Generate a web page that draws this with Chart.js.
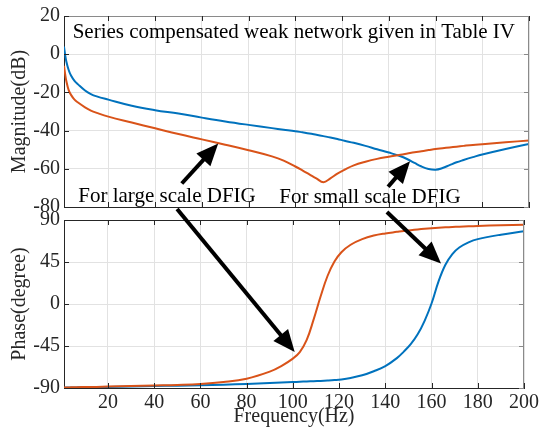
<!DOCTYPE html>
<html>
<head>
<meta charset="utf-8">
<script src="https://cdn.jsdelivr.net/npm/chart.js@4.4.1/dist/chart.umd.min.js"></script>
<style>
  html, body { margin: 0; padding: 0; background: #fff; }
  #wrap { position: relative; width: 542px; height: 431px; overflow: hidden; }
  canvas { position: absolute; left: 0; }
  #mag { top: 0; }
  #phase { top: 200px; }
  #notes { top: 0; pointer-events: none; }
</style>
</head>
<body>
<div id="wrap">
  <canvas id="mag" width="542" height="225"></canvas>
  <canvas id="phase" width="542" height="231"></canvas>
  <canvas id="notes" width="542" height="431"></canvas>
</div>
<script>
// ==================== Data ====================

const freqHz = [1, 1.5, 2, 3, 4, 5.5, 7, 10, 12.5, 15, 20, 30, 40, 50, 60, 70, 80, 90, 95, 100,
  103, 106, 109, 112, 115, 118, 121, 125, 130, 135, 140, 145, 148, 151, 154, 157, 160, 163, 166, 169,
  172, 176, 180, 190, 200];

// large scale DFIG (orange)
const magLarge = [-6.1, -10.5, -14, -18.8, -21.3, -23.8, -25.3, -27.8, -29.5, -30.7, -32.7, -35.8, -38.8, -41.8, -44.6, -47.4, -50.3, -53.5, -55.7, -58.8,
  -60.8, -62.9, -65, -67, -65, -62.5, -60.5, -58.2, -56.3, -54.8, -53.7, -52.7, -52, -51.3, -50.8, -50.2, -49.6, -49.2, -48.8, -48.4,
  -48, -47.5, -47.1, -46.1, -45.2];
const phaseLarge = [-89.6, -89.5, -89.5, -89.4, -89.3, -89.2, -89.1, -89, -88.9, -88.8, -88.5, -87.9, -87.3, -86.7, -85.7, -83.6, -80, -72.5, -66.5, -58.5,
  -51.5, -38.5, -16.5, 8, 30, 45.5, 55.5, 63.5, 69.5, 73.3, 75.6, 77.3, 78.3, 79.1, 79.9, 80.6, 81.2, 81.7, 82.1, 82.5,
  82.8, 83.2, 83.6, 84.4, 85];

// small scale DFIG (blue)
const magSmall = [4, -0.5, -3.8, -8.3, -11.2, -14, -15.8, -19, -20.9, -22.1, -23.8, -27, -29.3, -31.1, -33.2, -35.2, -37, -38.7, -39.5, -40.3,
  -40.9, -41.5, -42.2, -42.9, -43.6, -44.4, -45.3, -46.4, -48, -49.8, -51.5, -53.4, -55, -56.9, -58.8, -60.1, -60.5, -59.6, -58.1, -56.6,
  -55.4, -53.9, -52.5, -49.6, -47];
const phaseSmall = [-89.6, -89.6, -89.5, -89.5, -89.4, -89.4, -89.3, -89.2, -89.1, -89, -88.8, -88.4, -87.9, -87.5, -87, -86.4, -85.6, -84.7, -84.2, -83.7,
  -83.3, -83, -82.7, -82.4, -82, -81.5, -80.8, -79.2, -76.4, -72, -66.5, -58, -51, -43, -32.5, -18, 0.5, 24, 42, 53.5,
  60.5, 66, 69.5, 74.3, 77.9];

const freqTicks = [20, 40, 60, 80, 100, 120, 140, 160, 180, 200];
const magTicks = [-80, -60, -40, -20, 0, 20];
const phaseTicks = [-90, -45, 0, 45, 90];

// annotations, in data units of the panel they start/end in
const notes = [
  { panel: 'mag', x: 4.7, y: 8.4, text: 'Series compensated weak network given in Table IV' },
  { panel: 'mag', x: 7.1, y: -77.2, text: 'For large scale DFIG' },
  { panel: 'mag', x: 93.1, y: -78.1, text: 'For small scale DFIG' }
];
const arrows = [
  { from: ['mag', 51.4, -67.7], to: ['mag', 67, -46.8] },
  { from: ['mag', 139.7, -69.4], to: ['mag', 149.1, -56] },
  { from: ['mag', 49.4, -81], to: ['phase', 100.8, -51.4] },
  { from: ['mag', 139.2, -82.6], to: ['phase', 164.1, 43.4] }
];

// ==================== Styles ====================

const FONT = "'Liberation Serif', 'Times New Roman', serif";
const INK = '#262626';
const SOFT = '#8a8a8a';
const GRID = '#e2e2e2';
const BLUE = '#0072BD';
const ORANGE = '#D95319';

const fixedTicks = values => axis => { axis.ticks = values.map(v => ({ value: v })); };
const points = ys => freqHz.map((f, i) => ({ x: f, y: ys[i] }));

// top/right spines plus MATLAB style inward tick marks
function boxPlugin(topColor) {
  return {
    id: 'box',
    afterDraw(chart) {
      const { ctx, chartArea: a, scales } = chart;
      ctx.save();
      ctx.lineWidth = 1;

      ctx.strokeStyle = topColor;
      ctx.beginPath();
      ctx.moveTo(a.left, a.top + 0.5);
      ctx.lineTo(a.right, a.top + 0.5);
      ctx.stroke();

      ctx.strokeStyle = SOFT;
      ctx.beginPath();
      ctx.moveTo(a.right - 0.5, a.top);
      ctx.lineTo(a.right - 0.5, a.bottom);
      scales.y.ticks.forEach(t => {
        const py = Math.round(scales.y.getPixelForValue(t.value)) + 0.5;
        ctx.moveTo(a.right, py); ctx.lineTo(a.right - 5, py);
      });
      ctx.stroke();

      ctx.strokeStyle = INK;
      ctx.beginPath();
      scales.y.ticks.forEach(t => {
        const py = Math.round(scales.y.getPixelForValue(t.value)) + 0.5;
        ctx.moveTo(a.left, py); ctx.lineTo(a.left + 5, py);
      });
      scales.x.ticks.forEach(t => {
        const px = Math.round(scales.x.getPixelForValue(t.value)) + 0.5;
        ctx.moveTo(px, a.bottom); ctx.lineTo(px, a.bottom - 5);
        ctx.moveTo(px, a.top); ctx.lineTo(px, a.top + 5);
      });
      ctx.stroke();
      ctx.restore();
    }
  };
}

function panelOptions(cfg) {
  return {
    responsive: false,
    animation: false,
    events: [],
    layout: { padding: { top: cfg.padTop, right: 13, left: 0, bottom: 0 } },
    plugins: { legend: { display: false }, tooltip: { enabled: false } },
    elements: {
      point: { radius: 0 },
      line: { borderWidth: 2, tension: 0.4 }
    },
    scales: {
      x: {
        type: 'linear',
        min: 1,
        max: 200,
        afterBuildTicks: fixedTicks(freqTicks),
        afterFit: s => { s.height = cfg.xHeight; },
        grid: { color: GRID, drawTicks: false },
        border: { color: INK },
        ticks: { display: cfg.showX, font: { family: FONT, size: 20 }, color: INK, padding: 3, maxRotation: 0, autoSkip: false },
        title: {
          display: cfg.showX, text: 'Frequency(Hz)', color: INK,
          font: { family: FONT, size: 20 }, padding: { top: 0, bottom: 2 }
        }
      },
      y: {
        min: cfg.yMin,
        max: cfg.yMax,
        afterBuildTicks: fixedTicks(cfg.yTicks),
        afterFit: s => { s.width = 64; },
        grid: { color: GRID, drawTicks: false },
        border: { color: INK },
        ticks: { font: { family: FONT, size: 20 }, color: INK, padding: 4 },
        title: {
          display: true, text: cfg.yTitle, color: INK,
          font: { family: FONT, size: 20 }, padding: { top: 8, bottom: 0 }
        }
      }
    }
  };
}

function series(large, small) {
  return [
    { data: points(large), borderColor: ORANGE },
    { data: points(small), borderColor: BLUE }
  ];
}

// ==================== Charts ====================

const magChart = new Chart(document.getElementById('mag'), {
  type: 'line',
  data: { datasets: series(magLarge, magSmall) },
  options: panelOptions({ padTop: 15, xHeight: 18, showX: false, yMin: -80, yMax: 20, yTicks: magTicks, yTitle: 'Magnitude(dB)' }),
  plugins: [boxPlugin(SOFT)]
});

const phaseChart = new Chart(document.getElementById('phase'), {
  type: 'line',
  data: { datasets: series(phaseLarge, phaseSmall) },
  options: panelOptions({ padTop: 20, xHeight: 43, showX: true, yMin: -90, yMax: 90, yTicks: phaseTicks, yTitle: 'Phase(degree)' }),
  plugins: [boxPlugin(INK)]
});

// ==================== Annotations ====================

const panels = {
  mag: { chart: magChart, dy: 0 },
  phase: { chart: phaseChart, dy: 200 }
};

function toPx(panel, x, y) {
  const p = panels[panel];
  return [p.chart.scales.x.getPixelForValue(x), p.chart.scales.y.getPixelForValue(y) + p.dy];
}

function drawArrow(ctx, [x0, y0], [x1, y1]) {
  const len = Math.hypot(x1 - x0, y1 - y0);
  const ux = (x1 - x0) / len, uy = (y1 - y0) / len;
  const headLen = 22, headHalf = 9.5;
  const bx = x1 - ux * headLen, by = y1 - uy * headLen;

  ctx.beginPath();
  ctx.moveTo(x0, y0);
  ctx.lineTo(bx + ux * 2, by + uy * 2);
  ctx.stroke();

  ctx.beginPath();
  ctx.moveTo(x1, y1);
  ctx.lineTo(bx - uy * headHalf, by + ux * headHalf);
  ctx.lineTo(bx + uy * headHalf, by - ux * headHalf);
  ctx.closePath();
  ctx.fill();
}

function drawNotes() {
  const ctx = document.getElementById('notes').getContext('2d');
  ctx.fillStyle = '#000';
  ctx.strokeStyle = '#000';
  ctx.lineWidth = 4;
  ctx.font = `21px ${FONT}`;
  ctx.textBaseline = 'alphabetic';

  notes.forEach(n => {
    const [px, py] = toPx(n.panel, n.x, n.y);
    ctx.fillText(n.text, px, py);
  });

  arrows.forEach(a => drawArrow(ctx, toPx(...a.from), toPx(...a.to)));
}

drawNotes();
</script>
</body>
</html>
